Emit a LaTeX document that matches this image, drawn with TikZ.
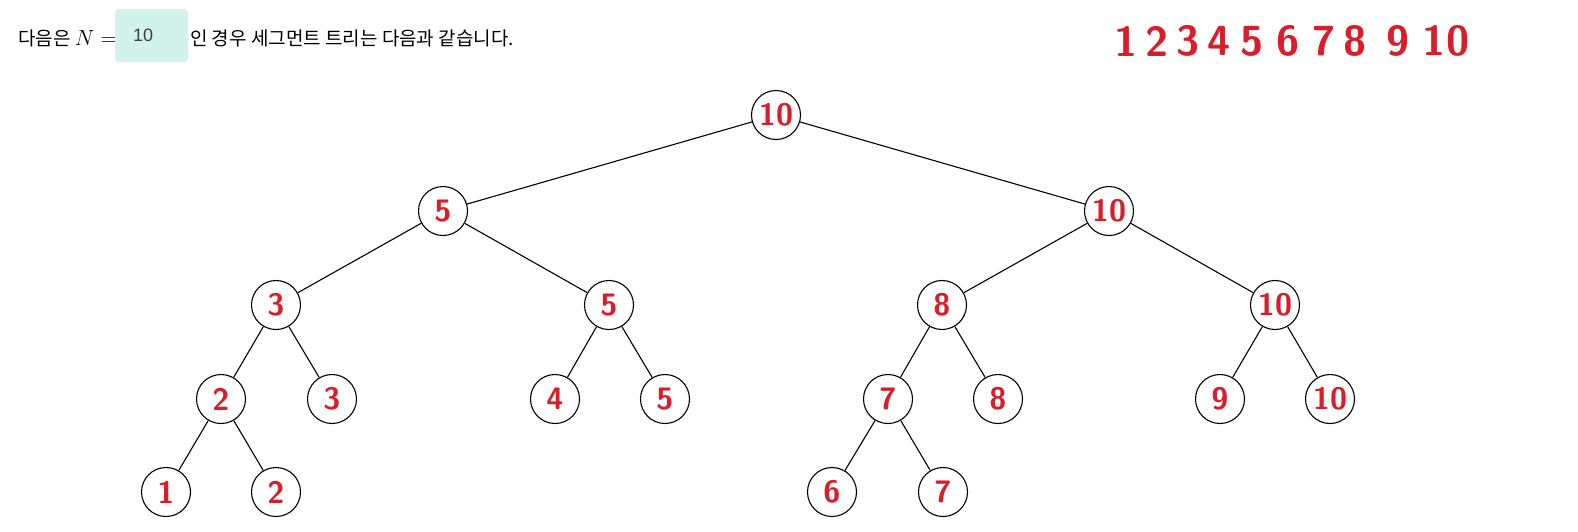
\documentclass[tikz,border=0pt]{standalone}
\usepackage{fix-cm}
\usepackage{fontspec}
\newfontfamily\krfont{Noto Sans CJK KR}
\newfontfamily\boxfont{Liberation Sans}
\usepackage{tikz}
\usetikzlibrary{positioning}
\definecolor{penred}{RGB}{216,30,42}
\definecolor{inputbg}{RGB}{210,242,236}
\tikzset{
  seg/.style   = {draw, circle, minimum size=49pt, inner sep=0pt, line width=1.1pt,
                  text=penred, font=\fontsize{31}{31}\selectfont\sffamily\bfseries},
  lnk/.style   = {line width=1.1pt},
  hand/.style  = {text=penred, inner sep=0pt, font=\fontsize{42}{42}\selectfont\sffamily\bfseries},
  kr/.style    = {inner sep=0pt, anchor=base west, font=\fontsize{19}{22}\selectfont\krfont},
  inbox/.style = {fill=inputbg, rounded corners=4pt, minimum width=73pt, minimum height=53pt,
                  inner sep=0pt, text width=37pt, align=left, text=black!75,
                  font=\fontsize{18}{20}\selectfont\boxfont},
}

\begin{document}
\begin{tikzpicture}[x=1pt, y=-1pt]
    \useasboundingbox (0,0) rectangle (1578,531);
    % heading line
    \node[kr] (intro) at (18,45) {다음은 {\fontsize{22}{26}\selectfont$N=$}};
    \node[inbox] (nbox) at (151.5,35.5) {10};
    \node[kr] (rest) at (190,45) {인 경우 세그먼트 트리는 다음과 같습니다.};
    % handwritten indices
    \foreach \d/\x in {1/1126,2/1157,3/1188,4/1219,5/1252,6/1288,7/1324,8/1355,9/1398,10/1446}
      \node[hand] (top\d) at (\x,41) {\d};
    % tree
    \node[seg] (n1)  at (776,115) {10};
    \node[seg] (n2)  at (443,211) {5};
    \node[seg] (n3)  at (1109,211) {10};
    \node[seg] (n4)  at (276,305) {3};
    \node[seg] (n5)  at (609,305) {5};
    \node[seg] (n6)  at (942,305) {8};
    \node[seg] (n7)  at (1275,305) {10};
    \node[seg] (n8)  at (221,399) {2};
    \node[seg] (n9)  at (332,399) {3};
    \node[seg] (n10) at (555,399) {4};
    \node[seg] (n11) at (665,399) {5};
    \node[seg] (n12) at (888,399) {7};
    \node[seg] (n13) at (998,399) {8};
    \node[seg] (n14) at (1220,399) {9};
    \node[seg] (n15) at (1330,399) {10};
    \node[seg] (n16) at (166,492) {1};
    \node[seg] (n17) at (276,492) {2};
    \node[seg] (n24) at (832,492) {6};
    \node[seg] (n25) at (943,492) {7};
    \foreach \p/\c in {1/2,1/3,2/4,2/5,3/6,3/7,4/8,4/9,5/10,5/11,6/12,6/13,7/14,7/15,8/16,8/17,12/24,12/25}
      \draw[lnk] (n\p) -- (n\c);
\end{tikzpicture}
\end{document}
